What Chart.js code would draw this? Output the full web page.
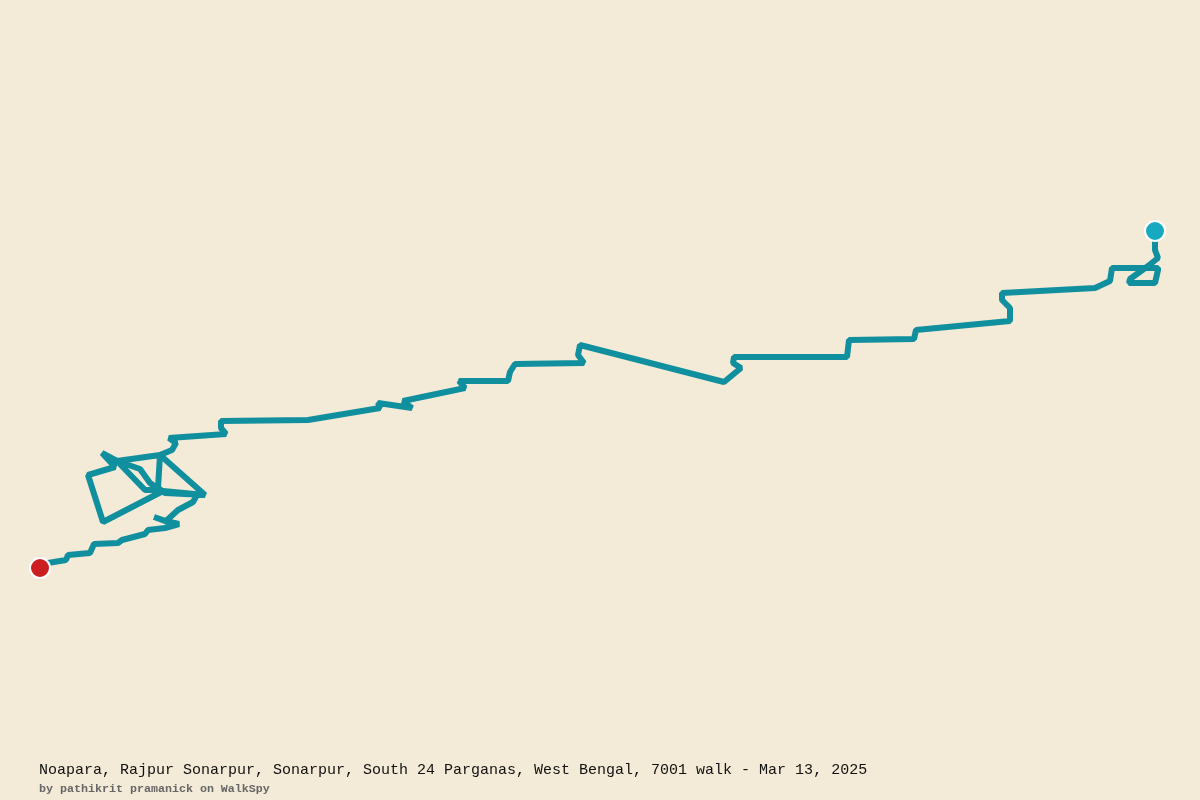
<!DOCTYPE html>
<html>
<head>
<meta charset="utf-8">
<title>WalkSpy route</title>
<script src="https://cdn.jsdelivr.net/npm/chart.js@4"></script>
<style>
    html, body { margin: 0; padding: 0; background: #f3ead8; }
    #wrap { position: relative; width: 1200px; height: 800px; overflow: hidden; }
    #routeChart { position: absolute; left: 0; top: 0; }
    .caption { position: absolute; left: 39px; white-space: pre; font-family: "Liberation Mono", "DejaVu Sans Mono", monospace; }
    #walkTitle { top: 762px; font-size: 15px; line-height: 18px; color: #111; }
    #walkBy { top: 782px; font-size: 11.67px; line-height: 15px; font-weight: bold; color: #666; }
</style>
</head>
<body>
<div id="wrap">
    <canvas id="routeChart" width="1200" height="800"></canvas>
    <div class="caption" id="walkTitle">Noapara, Rajpur Sonarpur, Sonarpur, South 24 Parganas, West Bengal, 7001 walk - Mar 13, 2025</div>
    <div class="caption" id="walkBy">by pathikrit pramanick on WalkSpy</div>
</div>
<script>
// route, from the red end to the blue end
const routeX = [40, 48, 66, 68, 90, 94, 118, 122, 145, 148, 165, 179, 165, 154, 166, 178, 193, 197, 205, 163, 103, 88, 115, 102, 117, 140, 150, 160, 145, 117, 160, 158, 165, 205, 160, 172, 176, 169, 226, 221, 221, 308, 380, 378, 412, 403, 465, 459, 508, 510, 515, 584, 578, 580, 724, 741, 733, 734, 847, 849, 914, 916, 1010, 1010, 1002, 1002, 1095, 1110, 1112, 1158, 1158, 1155, 1129, 1130, 1148, 1158, 1155, 1155];
const routeY = [568, 563, 560, 555, 553, 544, 543, 540, 534, 530, 528, 524, 521, 517, 521, 510, 502, 495, 495, 491, 522, 475, 467, 453, 461, 469, 483, 490, 490, 461, 455, 488, 493, 495, 455, 450, 443, 438, 434, 428, 421, 420, 408, 403, 408, 401, 388, 381, 381, 372, 364, 363, 355, 345, 382, 368, 363, 357, 357, 340, 339, 330, 321, 308, 300, 293, 288, 281, 268, 268, 270, 283, 283, 279, 266, 258, 250, 231];

const endX = [40];
const endY = [568];
const startX = [1155];
const startY = [231];

function toPoints(xs, ys) {
    return xs.map((x, i) => ({ x: x, y: ys[i] }));
}

const ctx = document.getElementById('routeChart').getContext('2d');
const routeChart = new Chart(ctx, {
    type: 'scatter',
    data: {
        datasets: [
            {
                label: 'Route',
                data: toPoints(routeX, routeY),
                showLine: true,
                borderColor: '#108f9f',
                borderWidth: 6,
                borderJoinStyle: 'bevel',
                borderCapStyle: 'butt',
                pointRadius: 0,
                tension: 0,
                order: 2
            },
            {
                label: 'Finish',
                data: toPoints(endX, endY),
                pointRadius: 10,
                pointBackgroundColor: '#cc2020',
                pointBorderColor: '#ffffff',
                pointBorderWidth: 2,
                order: 1
            },
            {
                label: 'Start',
                data: toPoints(startX, startY),
                pointRadius: 10,
                pointBackgroundColor: '#17a9bf',
                pointBorderColor: '#ffffff',
                pointBorderWidth: 2,
                order: 1
            }
        ]
    },
    options: {
        responsive: false,
        animation: false,
        devicePixelRatio: 1,
        layout: { padding: 0, autoPadding: false },
        plugins: {
            legend: { display: false },
            tooltip: { enabled: false }
        },
        scales: {
            x: { type: 'linear', display: false, min: 0, max: 1200 },
            y: { type: 'linear', display: false, min: 0, max: 800, reverse: true }
        }
    }
});
</script>
</body>
</html>
